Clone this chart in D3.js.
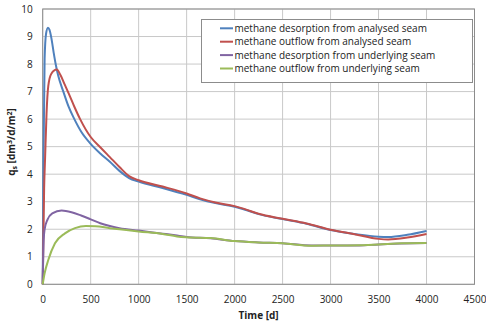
<!DOCTYPE html>
<html>
<head>
<meta charset="utf-8">
<script src="https://cdn.jsdelivr.net/npm/d3@7/dist/d3.min.js"></script>
<style>
  html, body { margin: 0; padding: 0; background: #fff; }
  svg { display: block; }
  text { font-family: "Open Sans", sans-serif; fill: #222; }
</style>
</head>
<body>
<svg id="chart" width="486" height="323"></svg>
<script>
// Time axis (days) and specific methane emission rates q_s [dm3/d/m2]
const seriesNames = [
  "methane desorption from analysed seam",
  "methane outflow from analysed seam",
  "methane desorption from underlying seam",
  "methane outflow from underlying seam"
];
const seriesColors = ["#4F81BD", "#C0504D", "#8064A2", "#9BBB59"];

const desorptionAnalysed = [
  [0,0],[8,4.5],[20,8.2],[35,9.1],[55,9.32],[70,9.25],[90,8.95],[115,8.4],[135,8.0],
  [160,7.6],[215,7.0],[270,6.45],[330,6.0],[400,5.55],[500,5.1],[600,4.75],[700,4.45],
  [800,4.12],[900,3.86],[1000,3.73],[1250,3.5],[1500,3.25],[1640,3.09],[1800,2.95],
  [2000,2.82],[2100,2.72],[2250,2.55],[2500,2.37],[2750,2.2],[3000,1.97],[3250,1.83],
  [3500,1.73],[3600,1.72],[3800,1.8],[4000,1.94]
];
const outflowAnalysed = [
  [0,0],[15,3.5],[25,4.6],[40,6.2],[58,7.2],[90,7.65],[146,7.8],[185,7.6],[230,7.25],
  [275,6.9],[330,6.45],[390,6.0],[500,5.35],[600,4.98],[700,4.62],[800,4.26],[900,3.93],
  [1000,3.78],[1250,3.55],[1500,3.3],[1640,3.12],[1800,2.97],[2000,2.84],[2100,2.74],
  [2250,2.56],[2500,2.38],[2750,2.21],[3000,1.98],[3250,1.82],[3500,1.65],[3600,1.63],
  [3800,1.7],[4000,1.83]
];
const desorptionUnderlying = [
  [0,0],[10,1.6],[20,2.0],[50,2.35],[100,2.58],[197,2.68],[300,2.62],[400,2.5],
  [500,2.36],[600,2.22],[700,2.12],[800,2.04],[1000,1.95],[1250,1.84],[1380,1.78],
  [1500,1.72],[1750,1.67],[2000,1.57],[2250,1.52],[2500,1.49],[2800,1.41],[3000,1.41],
  [3300,1.41],[3500,1.45],[3750,1.48],[4000,1.5]
];
const outflowUnderlying = [
  [0,0],[20,0.4],[58,0.88],[128,1.49],[232,1.85],[336,2.04],[450,2.12],[550,2.11],
  [700,2.04],[800,2.0],[1000,1.92],[1250,1.83],[1400,1.74],[1500,1.71],[1750,1.68],
  [2000,1.57],[2250,1.52],[2500,1.49],[2800,1.4],[3000,1.41],[3300,1.42],[3500,1.45],
  [3750,1.49],[4000,1.5]
];
const seriesData = [desorptionAnalysed, outflowAnalysed, desorptionUnderlying, outflowUnderlying];

const xTicks = [0, 500, 1000, 1500, 2000, 2500, 3000, 3500, 4000, 4500];
const yTicks = [0, 1, 2, 3, 4, 5, 6, 7, 8, 9, 10];

const svg = d3.select("#chart");
const plot = { left: 42.7, right: 474.5, top: 9, bottom: 284.3 };

const x = d3.scaleLinear().domain([0, 4500]).range([plot.left, plot.right]);
const y = d3.scaleLinear().domain([0, 10]).range([plot.bottom, plot.top]);

// grid
const grid = svg.append("g");
grid.selectAll(".gx").data(xTicks).join("line")
  .attr("x1", d => x(d)).attr("x2", d => x(d))
  .attr("y1", plot.top).attr("y2", plot.bottom)
  .attr("stroke", "#c9c9c9").attr("stroke-width", 1);
grid.selectAll(".gy").data(yTicks).join("line")
  .attr("x1", plot.left).attr("x2", plot.right)
  .attr("y1", d => y(d)).attr("y2", d => y(d))
  .attr("stroke", "#c9c9c9").attr("stroke-width", 1);

// plot frame
svg.append("rect")
  .attr("x", plot.left).attr("y", plot.top)
  .attr("width", plot.right - plot.left).attr("height", plot.bottom - plot.top)
  .attr("fill", "none").attr("stroke", "#8c8c8c").attr("stroke-width", 1);

// axes (labels only, lines drawn by frame)
const fmt = d3.format("d");
const xAxis = d3.axisBottom(x).tickValues(xTicks).tickFormat(fmt).tickSize(0).tickPadding(12);
const gx = svg.append("g").attr("transform", `translate(0,${plot.bottom})`).call(xAxis);
gx.select(".domain").remove();
gx.selectAll("text").style("font-size", "10px").attr("fill", "#222")
  .style("font-family", "'Open Sans', sans-serif");

const yAxis = d3.axisLeft(y).tickValues(yTicks).tickFormat(fmt).tickSize(0).tickPadding(10);
const gy = svg.append("g").attr("transform", `translate(${plot.left},0)`).call(yAxis);
gy.select(".domain").remove();
gy.selectAll("text").style("font-size", "10px").attr("fill", "#222")
  .style("font-family", "'Open Sans', sans-serif");

// series
const line = d3.line().x(d => x(d[0])).y(d => y(d[1])).curve(d3.curveMonotoneX);
svg.append("g").selectAll("path").data(seriesData).join("path")
  .attr("d", line)
  .attr("fill", "none")
  .attr("stroke", (d, i) => seriesColors[i])
  .attr("stroke-width", 2)
  .attr("stroke-linejoin", "round");

// axis titles
svg.append("text")
  .attr("x", (plot.left + plot.right) / 2).attr("y", 318.5)
  .attr("text-anchor", "middle")
  .style("font-size", "10px").style("font-weight", "bold")
  .text("Time [d]");

const yt = svg.append("text")
  .attr("transform", "translate(15,142) rotate(-90)")
  .attr("text-anchor", "middle")
  .style("font-size", "10px").style("font-weight", "bold");
yt.append("tspan").text("q");
yt.append("tspan").attr("dy", 2).style("font-size", "7px").text("s");
yt.append("tspan").attr("dy", -2).text(" [dm");
yt.append("tspan").attr("dy", -3).style("font-size", "7px").text("3");
yt.append("tspan").attr("dy", 3).text("/d/m");
yt.append("tspan").attr("dy", -3).style("font-size", "7px").text("2");
yt.append("tspan").attr("dy", 3).text("]");

// legend
const legend = svg.append("g");
legend.append("rect")
  .attr("x", 201.5).attr("y", 19.5).attr("width", 271).attr("height", 63)
  .attr("fill", "#fff").attr("stroke", "#8c8c8c").attr("stroke-width", 1);
const rows = legend.selectAll("g.row").data(seriesNames).join("g")
  .attr("transform", (d, i) => `translate(220,${28.3 + i * 13.4})`);
rows.append("line").attr("x1", 0).attr("x2", 13).attr("y1", 0).attr("y2", 0)
  .attr("stroke", (d, i) => seriesColors[i]).attr("stroke-width", 2);
rows.append("text").attr("x", 14.5).attr("dy", "0.35em")
  .style("font-size", "10px").text(d => d);
</script>
</body>
</html>
